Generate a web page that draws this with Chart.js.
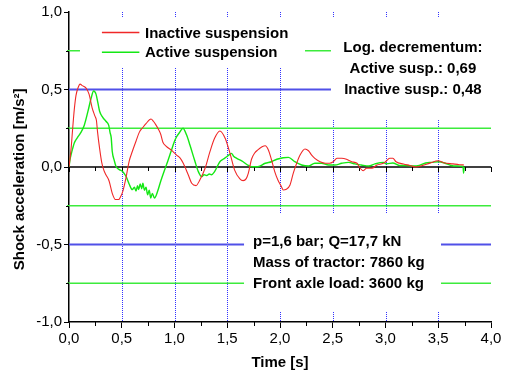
<!DOCTYPE html>
<html><head><meta charset="utf-8">
<script src="https://cdn.jsdelivr.net/npm/chart.js@4.4.0/dist/chart.umd.min.js"></script>
<style>html,body{margin:0;padding:0;background:#fff;}#wrap{width:508px;height:373px;}</style>
</head><body><div id="wrap"><canvas id="c" width="508" height="373"></canvas></div>
<script>
// ---- data ----
const inactiveT = [0,0.02,0.035,0.05,0.066,0.085,0.105,0.125,0.16,0.19,0.22,0.245,0.26,0.27,0.29,0.31,0.33,0.35,0.38,0.41,0.44,0.47,0.49,0.51,0.54,0.57,0.60,0.635,0.667,0.70,0.73,0.777,0.80,0.825,0.85,0.87,0.89,0.92,0.967,1.0,1.02,1.05,1.083,1.13,1.163,1.204,1.24,1.29,1.336,1.38,1.43,1.48,1.526,1.57,1.62,1.65,1.68,1.70,1.73,1.76,1.79,1.83,1.86,1.89,1.92,1.95,1.98,2.016,2.03,2.06,2.095,2.126,2.158,2.19,2.237,2.27,2.30,2.33,2.38,2.43,2.47,2.505,2.54,2.585,2.63,2.68,2.73,2.76,2.79,2.82,2.87,2.92,2.98,3.0,3.04,3.07,3.1,3.17,3.23,3.29,3.35,3.42,3.5,3.55,3.64,3.70,3.744];
const inactiveV = [0,0.12,0.25,0.37,0.46,0.51,0.535,0.525,0.51,0.47,0.38,0.33,0.30,0.23,0.12,0.03,-0.02,-0.05,-0.09,-0.17,-0.21,-0.21,-0.19,-0.157,-0.07,0.037,0.10,0.166,0.225,0.255,0.28,0.31,0.295,0.27,0.24,0.21,0.16,0.135,0.11,0.09,0.077,0.06,0.024,-0.05,-0.105,-0.12,-0.084,-0.008,0.099,0.185,0.232,0.185,0.088,-0.02,-0.077,-0.088,-0.075,-0.04,0.05,0.09,0.11,0.13,0.137,0.11,0.045,-0.03,-0.084,-0.13,-0.148,-0.144,-0.116,-0.04,0.024,0.077,0.116,0.105,0.077,0.056,0.034,0.024,0.024,0.034,0.056,0.056,0.05,0.034,0.024,-0.008,-0.024,-0.008,-0.008,0.013,0.024,0.034,0.056,0.056,0.034,0.019,0.01,0.0,0.01,0.025,0.04,0.028,0.02,0.015,0.013];
const activeT = [0,0.01,0.02,0.035,0.05,0.08,0.11,0.145,0.18,0.21,0.234,0.256,0.275,0.29,0.32,0.35,0.376,0.39,0.40,0.41,0.43,0.445,0.477,0.51,0.54,0.57,0.60,0.62,0.635,0.65,0.66,0.675,0.69,0.70,0.715,0.73,0.745,0.76,0.775,0.79,0.81,0.84,0.87,0.90,0.936,0.967,1.0,1.02,1.05,1.08,1.115,1.147,1.19,1.226,1.257,1.28,1.305,1.33,1.35,1.38,1.43,1.46,1.495,1.52,1.54,1.56,1.59,1.65,1.70,1.73,1.79,1.86,1.92,1.97,2.03,2.08,2.14,2.205,2.27,2.33,2.395,2.46,2.52,2.585,2.65,2.71,2.77,2.84,2.9,2.98,3.01,3.07,3.13,3.19,3.26,3.32,3.38,3.44,3.5,3.56,3.62,3.68,3.735,3.74,3.745];
const activeV = [0,0.05,0.08,0.12,0.155,0.19,0.22,0.27,0.36,0.445,0.49,0.47,0.41,0.36,0.32,0.295,0.27,0.22,0.19,0.10,0.04,0.005,-0.017,-0.03,-0.06,-0.11,-0.146,-0.13,-0.155,-0.12,-0.145,-0.11,-0.14,-0.105,-0.15,-0.13,-0.18,-0.15,-0.2,-0.17,-0.2,-0.157,-0.09,-0.03,0.037,0.10,0.166,0.195,0.225,0.25,0.206,0.14,0.045,-0.03,-0.062,-0.05,-0.055,-0.045,-0.05,-0.03,0.034,0.05,0.066,0.08,0.088,0.07,0.056,0.034,0.01,0.002,0.002,0.024,0.034,0.05,0.06,0.062,0.034,0.013,0.006,0.024,0.024,0.013,0.013,0.024,0.03,0.02,0.013,0.006,0.02,0.03,0.02,0.026,0.01,0.01,0.006,0.01,0.026,0.03,0.034,0.026,0.01,0.006,0.004,-0.04,0.0];
const xTickLabels = ['0,0','0,5','1,0','1,5','2,0','2,5','3,0','3,5','4,0'];
const yTickLabels = ['-1,0','-0,5','0,0','0,5','1,0'];
const blueRefLines = [0.5, -0.5];
const greenRefLines = [0.75, 0.25, -0.25, -0.75];
const verticalMarks = [0.5, 1.0, 1.5, 2.0, 2.5, 3.0, 3.5];
const seriesLabels = ['Inactive suspension', 'Active suspension'];
const decrementText = ['Log. decrementum:', 'Active susp.: 0,69', 'Inactive susp.: 0,48'];
const conditionText = ['p=1,6 bar; Q=17,7 kN', 'Mass of tractor: 7860 kg', 'Front axle load: 3600 kg'];
const yAxisTitle = 'Shock acceleration [m/s²]';

const RED = 'rgb(240,40,40)';
const GREEN = 'rgb(20,232,20)';
const FONT = 'Arial, "Liberation Sans", sans-serif';

function pts(t, v) { return t.map((x, i) => ({x: x, y: v[i]})); }

const decor = {
  id: 'decor',
  beforeDatasetsDraw(chart) {
    const ctx = chart.ctx, xs = chart.scales.x, ys = chart.scales.y, a = chart.chartArea;
    const X = v => xs.getPixelForValue(v), Y = v => ys.getPixelForValue(v);
    ctx.save();
    // vertical dotted lines
    ctx.strokeStyle = 'rgb(50,50,255)'; ctx.lineWidth = 1; ctx.setLineDash([1, 1]);
    verticalMarks.forEach(v => { const p = Math.round(X(v)) + 0.5; ctx.beginPath(); ctx.moveTo(p, a.top); ctx.lineTo(p, a.bottom); ctx.stroke(); });
    ctx.setLineDash([]);
    // horizontal reference lines
    ctx.strokeStyle = 'rgb(60,235,60)'; ctx.lineWidth = 1.5;
    greenRefLines.forEach(v => { const p = Y(v); ctx.beginPath(); ctx.moveTo(a.left - 2, p); ctx.lineTo(a.right, p); ctx.stroke(); });
    ctx.strokeStyle = 'rgb(80,80,232)'; ctx.lineWidth = 2;
    blueRefLines.forEach(v => { const p = Y(v); ctx.beginPath(); ctx.moveTo(a.left, p); ctx.lineTo(a.right, p); ctx.stroke(); });
    // white text boxes
    ctx.fillStyle = '#fff';
    const box = (x0, x1, y0, y1) => ctx.fillRect(X(x0), Y(y0), X(x1) - X(x0), Y(y1) - Y(y0));
    box(0.104, 2.237, 0.968, 0.639);
    box(2.483, 4.1, 0.968, 0.303);
    box(1.659, 3.526, -0.297, -0.935);
    // zero line with ticks
    ctx.strokeStyle = '#000'; ctx.lineWidth = 1.5;
    const y0 = Y(0);
    ctx.beginPath(); ctx.moveTo(a.left, y0); ctx.lineTo(a.right, y0); ctx.stroke();
    ctx.lineWidth = 1;
    for (let k = 0; k <= 16; k++) {
      const p = Math.round(X(k * 0.25)) + 0.5, len = (k % 2 === 0) ? 5 : 4;
      ctx.beginPath(); ctx.moveTo(p, y0); ctx.lineTo(p, y0 + len); ctx.stroke();
      if (k % 2 === 1) { ctx.beginPath(); ctx.moveTo(p, a.bottom); ctx.lineTo(p, a.bottom + 4); ctx.stroke(); }
    }
    [-0.75, -0.25, 0.25, 0.75].forEach(v => { const p = Math.round(Y(v)) + 0.5; ctx.beginPath(); ctx.moveTo(a.left, p); ctx.lineTo(a.left - 3, p); ctx.stroke(); });
    // legend
    ctx.font = 'bold 15px ' + FONT; ctx.fillStyle = '#000'; ctx.textBaseline = 'middle'; ctx.textAlign = 'left';
    const lgY = [Y(0.868), Y(0.74)];
    const lgCol = [RED, GREEN];
    lgY.forEach((p, i) => {
      ctx.strokeStyle = lgCol[i]; ctx.lineWidth = 1.5;
      ctx.beginPath(); ctx.moveTo(X(0.312), p); ctx.lineTo(X(0.667), p); ctx.stroke();
      ctx.fillText(seriesLabels[i], X(0.72), p + 1);
    });
    // decrement text
    ctx.textAlign = 'center';
    const dY = [0.774, 0.639, 0.503];
    decrementText.forEach((s, i) => ctx.fillText(s, X(3.26), Y(dY[i]) + 1));
    // conditions text
    ctx.textAlign = 'left';
    const cY = [-0.477, -0.613, -0.748];
    conditionText.forEach((s, i) => ctx.fillText(s, X(1.744), Y(cY[i]) + 1));
    // y axis title
    ctx.save();
    ctx.translate(20, Y(-0.08));
    ctx.rotate(-Math.PI / 2);
    ctx.textAlign = 'center';
    ctx.fillText(yAxisTitle, 0, 0);
    ctx.restore();
    ctx.restore();
  }
};

new Chart(document.getElementById('c'), {
  type: 'line',
  data: {
    datasets: [
      { label: seriesLabels[0], data: pts(inactiveT, inactiveV), borderColor: RED, borderWidth: 1.1, pointRadius: 0, cubicInterpolationMode: 'monotone', fill: false },
      { label: seriesLabels[1], data: pts(activeT, activeV), borderColor: GREEN, borderWidth: 1.4, pointRadius: 0, cubicInterpolationMode: 'monotone', fill: false }
    ]
  },
  options: {
    responsive: false, animation: false, devicePixelRatio: 1,
    layout: { padding: { left: 0, top: 12, right: 17, bottom: 0 } },
    plugins: { legend: { display: false }, tooltip: { enabled: false } },
    scales: {
      x: {
        type: 'linear', min: 0, max: 4,
        afterFit: s => { s.height = 51; },
        ticks: { stepSize: 0.5, color: '#000', font: { family: FONT, size: 15 }, padding: 2, maxRotation: 0,
          callback: (v, i) => xTickLabels[i] },
        grid: { drawOnChartArea: false, color: '#000', lineWidth: 1, tickLength: 6 },
        border: { display: true, color: '#000', width: 1.5 },
        title: { display: true, text: 'Time [s]', color: '#000', font: { family: FONT, size: 15, weight: 'bold' }, padding: { top: 0, bottom: 1 } }
      },
      y: {
        min: -1, max: 1,
        afterFit: s => { s.width = 69; },
        ticks: { stepSize: 0.5, color: '#000', font: { family: FONT, size: 15 }, padding: 2,
          callback: (v, i) => yTickLabels[i] },
        grid: { drawOnChartArea: false, color: '#000', lineWidth: 1, tickLength: 5 },
        border: { display: true, color: '#000', width: 1.5 },
        title: { display: false }
      }
    }
  },
  plugins: [decor]
});
</script></body></html>
